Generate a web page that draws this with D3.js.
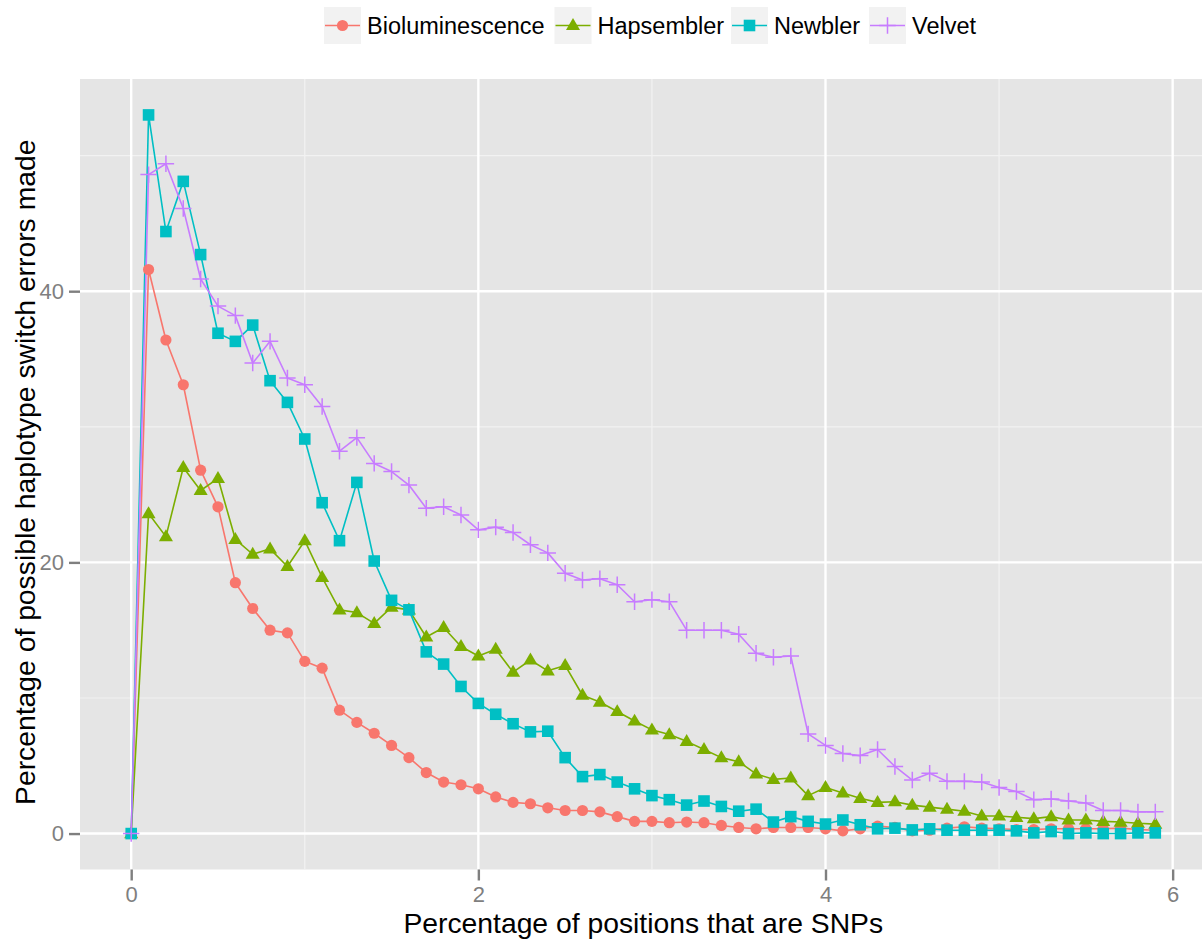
<!DOCTYPE html>
<html>
<head>
<meta charset="utf-8">
<script src="https://cdn.jsdelivr.net/npm/d3@7"></script>
<style>
  html, body { margin: 0; padding: 0; background: #ffffff; }
  svg { display: block; font-family: "Liberation Sans", Arial, sans-serif; }
</style>
</head>
<body>
<svg id="chart" width="1202" height="939"></svg>
<script>
// SNP density (percent of positions) at which each assembler was evaluated
const snpPercent = [0.0, 0.1, 0.2, 0.3, 0.4, 0.5, 0.6, 0.7, 0.8, 0.9,
  1.0, 1.1, 1.2, 1.3, 1.4, 1.5, 1.6, 1.7, 1.8, 1.9,
  2.0, 2.1, 2.2, 2.3, 2.4, 2.5, 2.6, 2.7, 2.8, 2.9,
  3.0, 3.1, 3.2, 3.3, 3.4, 3.5, 3.6, 3.7, 3.8, 3.9,
  4.0, 4.1, 4.2, 4.3, 4.4, 4.5, 4.6, 4.7, 4.8, 4.9,
  5.0, 5.1, 5.2, 5.3, 5.4, 5.5, 5.6, 5.7, 5.8, 5.9];

// Percentage of possible haplotype switch errors, per assembler
const bioluminescence = [0, 41.6, 36.4, 33.1, 26.8, 24.1, 18.5, 16.6, 15.0, 14.8,
  12.7, 12.2, 9.1, 8.2, 7.4, 6.5, 5.6, 4.5, 3.8, 3.6,
  3.3, 2.7, 2.3, 2.2, 1.9, 1.7, 1.7, 1.6, 1.25, 0.9,
  0.9, 0.8, 0.85, 0.8, 0.6, 0.45, 0.35, 0.45, 0.45, 0.45,
  0.35, 0.2, 0.35, 0.55, 0.45, 0.2, 0.25, 0.4, 0.5, 0.4,
  0.35, 0.3, 0.3, 0.35, 0.35, 0.35, 0.35, 0.4, 0.3, 0.25];

const hapsembler = [0, 23.6, 21.9, 27.0, 25.3, 26.2, 21.7, 20.6, 21.0, 19.7,
  21.6, 18.9, 16.5, 16.3, 15.5, 16.7, 16.5, 14.5, 15.2, 13.8,
  13.1, 13.6, 11.9, 12.8, 12.0, 12.4, 10.2, 9.7, 9.0, 8.3,
  7.65, 7.3, 6.8, 6.2, 5.6, 5.3, 4.4, 4.0, 4.1, 2.8,
  3.4, 3.0, 2.6, 2.3, 2.35, 2.1, 1.95, 1.8, 1.65, 1.3,
  1.3, 1.2, 1.1, 1.25, 1.0, 1.0, 0.9, 0.85, 0.76, 0.7];

const newbler = [0, 53.0, 44.4, 48.1, 42.7, 36.9, 36.3, 37.5, 33.4, 31.8,
  29.1, 24.4, 21.6, 25.9, 20.1, 17.2, 16.5, 13.4, 12.5, 10.85,
  9.6, 8.8, 8.1, 7.5, 7.55, 5.6, 4.2, 4.35, 3.8, 3.3,
  2.8, 2.5, 2.1, 2.4, 2.0, 1.65, 1.8, 0.85, 1.25, 0.9,
  0.7, 1.0, 0.65, 0.35, 0.4, 0.27, 0.35, 0.25, 0.25, 0.25,
  0.25, 0.2, 0.05, 0.15, 0.0, 0.05, 0.0, 0.0, 0.05, 0.05];

const velvet = [0, 48.6, 49.4, 46.1, 40.9, 38.9, 38.2, 34.7, 36.3, 33.6,
  33.1, 31.5, 28.2, 29.2, 27.3, 26.7, 25.7, 24.0, 24.1, 23.5,
  22.4, 22.6, 22.2, 21.3, 20.7, 19.2, 18.7, 18.8, 18.35, 17.1,
  17.25, 17.1, 15.0, 15.0, 15.0, 14.7, 13.3, 13.0, 13.1, 7.35,
  6.5, 5.9, 5.75, 6.2, 4.95, 3.95, 4.45, 3.85, 3.85, 3.8,
  3.4, 3.1, 2.5, 2.55, 2.4, 2.25, 1.7, 1.7, 1.6, 1.6];

const seriesNames = ["Bioluminescence", "Hapsembler", "Newbler", "Velvet"];
const seriesValues = [bioluminescence, hapsembler, newbler, velvet];

const xTicks = [0, 2, 4, 6];
const xMinorTicks = [1, 3, 5];
const yTicks = [0, 20, 40];
const yMinorTicks = [10, 30, 50];

const xTitle = "Percentage of positions that are SNPs";
const yTitle = "Percentage of possible haplotype switch errors made";

// ---- styling ----
const colors = ["#F8766D", "#7CAE00", "#00BFC4", "#C77CFF"];
const shapes = ["circle", "triangle", "square", "plus"];

const panel = { left: 80, top: 79, right: 1206.5, bottom: 869.5 };

const svg = d3.select("#chart");

// data ranges padded the way the plotting grammar expands continuous scales
const xExtent = d3.extent(snpPercent);
const yExtent = [0, d3.max(seriesValues.flat())];
const xPad = (xExtent[1] - xExtent[0]) * 0.05;
const yPad = (yExtent[1] - yExtent[0]) * 0.05;

const x = d3.scaleLinear()
  .domain([xExtent[0] - xPad, xExtent[1] + xPad])
  .range([panel.left, panel.right]);
const y = d3.scaleLinear()
  .domain([yExtent[0] - yPad, yExtent[1] + yPad])
  .range([panel.bottom, panel.top]);

// panel background
svg.append("rect")
  .attr("x", panel.left).attr("y", panel.top)
  .attr("width", panel.right - panel.left)
  .attr("height", panel.bottom - panel.top)
  .attr("fill", "#E5E5E5");

const grid = svg.append("g");
// minor grid
grid.selectAll(".vminor").data(xMinorTicks).join("line")
  .attr("x1", d => x(d)).attr("x2", d => x(d))
  .attr("y1", panel.top).attr("y2", panel.bottom)
  .attr("stroke", "#F2F2F2").attr("stroke-width", 1.2);
grid.selectAll(".hminor").data(yMinorTicks).join("line")
  .attr("y1", d => y(d)).attr("y2", d => y(d))
  .attr("x1", panel.left).attr("x2", panel.right)
  .attr("stroke", "#F2F2F2").attr("stroke-width", 1.2);
// major grid
grid.selectAll(".vmajor").data(xTicks).join("line")
  .attr("x1", d => x(d)).attr("x2", d => x(d))
  .attr("y1", panel.top).attr("y2", panel.bottom)
  .attr("stroke", "#FFFFFF").attr("stroke-width", 2.4);
grid.selectAll(".hmajor").data(yTicks).join("line")
  .attr("y1", d => y(d)).attr("y2", d => y(d))
  .attr("x1", panel.left).attr("x2", panel.right)
  .attr("stroke", "#FFFFFF").attr("stroke-width", 2.4);

// axes
const xAxis = svg.append("g")
  .attr("transform", `translate(0,${panel.bottom})`)
  .call(d3.axisBottom(x).tickValues(xTicks).tickSize(11).tickPadding(5.5).tickFormat(d3.format("d")));
const yAxis = svg.append("g")
  .attr("transform", `translate(${panel.left},0)`)
  .call(d3.axisLeft(y).tickValues(yTicks).tickSize(11).tickPadding(5).tickFormat(d3.format("d")));
[xAxis, yAxis].forEach(a => {
  a.select(".domain").remove();
  a.selectAll(".tick line").attr("stroke", "#7F7F7F").attr("stroke-width", 2.4);
  a.selectAll(".tick text")
    .attr("fill", "#7F7F7F")
    .attr("font-size", 22)
    .attr("font-family", "Liberation Sans, Arial, sans-serif");
});

// axis titles
svg.append("text")
  .attr("x", (panel.left + panel.right) / 2)
  .attr("y", 932.5)
  .attr("text-anchor", "middle")
  .attr("font-size", 28.3)
  .attr("fill", "#000")
  .text(xTitle);
svg.append("text")
  .attr("transform", `translate(35,${(panel.top + panel.bottom) / 2 - 2}) rotate(-90)`)
  .attr("text-anchor", "middle")
  .attr("font-size", 28.3)
  .attr("fill", "#000")
  .text(yTitle);

// marker drawing
function drawMarker(sel, shape, color) {
  if (shape === "circle") {
    sel.append("circle").attr("r", 5.6).attr("fill", color);
  } else if (shape === "triangle") {
    const s = 7.4;
    sel.append("path")
      .attr("d", `M0,${-s} L${s * 0.95},${s * 0.62} L${-s * 0.95},${s * 0.62} Z`)
      .attr("fill", color);
  } else if (shape === "square") {
    sel.append("rect").attr("x", -5.8).attr("y", -5.8)
      .attr("width", 11.6).attr("height", 11.6).attr("fill", color);
  } else {
    const s = 8.2;
    sel.append("path")
      .attr("d", `M${-s},0 H${s} M0,${-s} V${s}`)
      .attr("stroke", color).attr("stroke-width", 1.5).attr("fill", "none");
  }
}

svg.append("clipPath").attr("id", "panel-clip")
  .append("rect")
  .attr("x", panel.left).attr("y", panel.top)
  .attr("width", panel.right - panel.left)
  .attr("height", panel.bottom - panel.top);

const plot = svg.append("g").attr("clip-path", "url(#panel-clip)");

const line = d3.line()
  .x(d => x(d[0]))
  .y(d => y(d[1]));

const seriesData = seriesValues.map(vals => vals.map((v, i) => [snpPercent[i], v]));

// lines first, then points, in series order
seriesData.forEach((pts, k) => {
  plot.append("path")
    .datum(pts)
    .attr("d", line)
    .attr("fill", "none")
    .attr("stroke", colors[k])
    .attr("stroke-width", 1.6)
    .attr("stroke-linejoin", "round");
});
seriesData.forEach((pts, k) => {
  const g = plot.append("g");
  pts.forEach(p => {
    const m = g.append("g").attr("transform", `translate(${x(p[0])},${y(p[1])})`);
    drawMarker(m, shapes[k], colors[k]);
  });
});

// legend across the top
const legend = svg.append("g");
const keyLefts = [324, 554.5, 731, 869];
const keySize = 37;
const legendCy = 25.5;
seriesNames.forEach((name, k) => {
  const kx = keyLefts[k];
  legend.append("rect")
    .attr("x", kx).attr("y", legendCy - keySize / 2)
    .attr("width", keySize).attr("height", keySize)
    .attr("fill", "#F2F2F2");
  legend.append("line")
    .attr("x1", kx + 1).attr("x2", kx + keySize - 1)
    .attr("y1", legendCy).attr("y2", legendCy)
    .attr("stroke", colors[k]).attr("stroke-width", 1.6);
  const m = legend.append("g").attr("transform", `translate(${kx + keySize / 2},${legendCy})`);
  drawMarker(m, shapes[k], colors[k]);
  legend.append("text")
    .attr("x", kx + keySize + 6)
    .attr("y", legendCy + 8.5)
    .attr("font-size", 23.5)
    .attr("fill", "#000")
    .text(name);
});
</script>
</body>
</html>
